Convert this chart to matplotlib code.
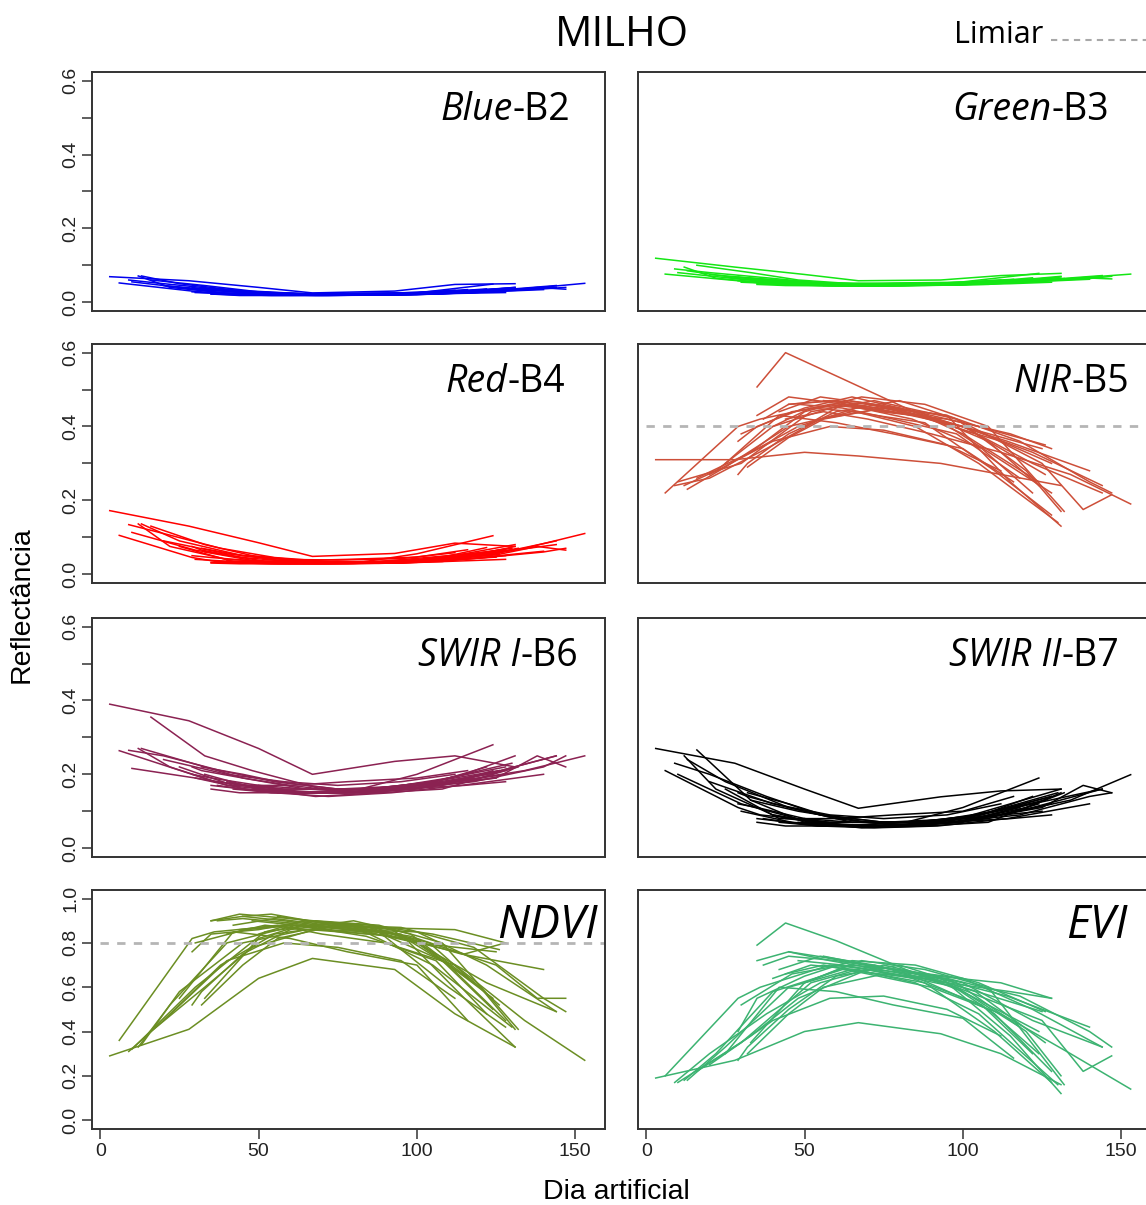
import matplotlib
matplotlib.use("Agg")
import matplotlib.pyplot as plt
from matplotlib.lines import Line2D

# observation days of each field (one line per field in every panel)
days = [
    [3, 28, 50, 67, 93, 112, 131],
    [6, 29, 36, 58, 85, 112, 128],
    [9, 20, 38, 55, 75, 100, 122, 144],
    [10, 30, 52, 72, 98, 125, 138, 147],
    [13, 25, 45, 65, 88, 110, 128],
    [16, 33, 48, 70, 95, 115, 131],
    [29, 35, 50, 65, 85, 105, 126],
    [29, 32, 45, 60, 80, 98, 120, 131],
    [32, 45, 56, 75, 95, 118, 140, 147],
    [35, 45, 54, 70, 92, 110, 128],
    [35, 44, 60, 82, 100, 124],
    [37, 45, 60, 78, 100, 122, 144],
    [40, 52, 66, 85, 105, 130],
    [44, 56, 70, 90, 112, 134, 153],
    [45, 58, 74, 95, 115, 128],
    [48, 62, 78, 98, 118],
    [50, 64, 80, 100, 125],
    [20, 40, 58, 75, 95, 112],
    [25, 42, 60, 78, 100, 116],
    [56, 70, 86, 104, 126],
    [12, 22, 40, 62, 86, 108, 124],
    [33, 50, 68, 88, 108, 132],
    [42, 55, 72, 92, 114, 140],
    [30, 46, 62, 84, 106, 122],
]

blue = [
    [0.069, 0.058, 0.040, 0.025, 0.030, 0.048, 0.050],
    [0.052, 0.030, 0.025, 0.020, 0.020, 0.024, 0.030],
    [0.060, 0.050, 0.035, 0.025, 0.020, 0.022, 0.030, 0.040],
    [0.055, 0.035, 0.022, 0.020, 0.022, 0.030, 0.040, 0.035],
    [0.071, 0.050, 0.030, 0.022, 0.022, 0.028, 0.035],
    [0.060, 0.045, 0.030, 0.020, 0.022, 0.030, 0.040],
    [0.028, 0.025, 0.022, 0.020, 0.020, 0.025, 0.030],
    [0.040, 0.036, 0.028, 0.022, 0.020, 0.022, 0.032, 0.040],
    [0.038, 0.030, 0.024, 0.020, 0.020, 0.026, 0.036, 0.040],
    [0.022, 0.020, 0.018, 0.018, 0.020, 0.028, 0.036],
    [0.022, 0.018, 0.018, 0.020, 0.025, 0.049],
    [0.022, 0.020, 0.019, 0.019, 0.020, 0.030, 0.045],
    [0.024, 0.021, 0.020, 0.020, 0.026, 0.038],
    [0.022, 0.020, 0.020, 0.021, 0.026, 0.036, 0.051],
    [0.019, 0.019, 0.019, 0.020, 0.024, 0.026],
    [0.020, 0.019, 0.019, 0.021, 0.030],
    [0.022, 0.019, 0.019, 0.022, 0.028],
    [0.045, 0.030, 0.024, 0.023, 0.025, 0.032],
    [0.040, 0.022, 0.022, 0.024, 0.026, 0.034],
    [0.019, 0.019, 0.019, 0.022, 0.032],
    [0.071, 0.040, 0.024, 0.019, 0.020, 0.026, 0.034],
    [0.034, 0.022, 0.018, 0.019, 0.022, 0.036],
    [0.021, 0.019, 0.018, 0.020, 0.025, 0.034],
    [0.026, 0.021, 0.019, 0.020, 0.026, 0.036],
]

green = [
    [0.119, 0.095, 0.075, 0.058, 0.060, 0.072, 0.078],
    [0.076, 0.058, 0.052, 0.046, 0.046, 0.052, 0.060],
    [0.090, 0.080, 0.066, 0.052, 0.048, 0.050, 0.058, 0.068],
    [0.080, 0.062, 0.048, 0.045, 0.048, 0.058, 0.066, 0.063],
    [0.085, 0.070, 0.054, 0.047, 0.047, 0.055, 0.062],
    [0.100, 0.080, 0.060, 0.047, 0.047, 0.058, 0.070],
    [0.058, 0.055, 0.050, 0.046, 0.046, 0.052, 0.060],
    [0.068, 0.065, 0.056, 0.048, 0.045, 0.048, 0.060, 0.068],
    [0.066, 0.058, 0.050, 0.046, 0.046, 0.054, 0.064, 0.070],
    [0.050, 0.048, 0.046, 0.045, 0.046, 0.055, 0.064],
    [0.048, 0.045, 0.044, 0.046, 0.055, 0.078],
    [0.050, 0.047, 0.045, 0.045, 0.047, 0.058, 0.072],
    [0.052, 0.048, 0.046, 0.046, 0.054, 0.066],
    [0.049, 0.047, 0.046, 0.047, 0.054, 0.064, 0.076],
    [0.047, 0.045, 0.045, 0.046, 0.050, 0.054],
    [0.047, 0.045, 0.045, 0.047, 0.058],
    [0.050, 0.045, 0.045, 0.048, 0.056],
    [0.075, 0.060, 0.052, 0.050, 0.052, 0.060],
    [0.068, 0.050, 0.050, 0.052, 0.054, 0.062],
    [0.045, 0.045, 0.046, 0.049, 0.062],
    [0.095, 0.065, 0.050, 0.045, 0.046, 0.052, 0.062],
    [0.062, 0.048, 0.044, 0.045, 0.048, 0.064],
    [0.048, 0.045, 0.044, 0.046, 0.052, 0.062],
    [0.054, 0.048, 0.045, 0.046, 0.054, 0.066],
]

red = [
    [0.172, 0.130, 0.085, 0.048, 0.056, 0.084, 0.075],
    [0.105, 0.045, 0.035, 0.030, 0.030, 0.038, 0.050],
    [0.134, 0.110, 0.070, 0.045, 0.032, 0.038, 0.055, 0.080],
    [0.113, 0.065, 0.035, 0.030, 0.035, 0.052, 0.075, 0.065],
    [0.136, 0.090, 0.050, 0.034, 0.034, 0.050, 0.065],
    [0.130, 0.080, 0.050, 0.032, 0.034, 0.055, 0.080],
    [0.050, 0.045, 0.035, 0.030, 0.032, 0.040, 0.055],
    [0.075, 0.065, 0.045, 0.034, 0.030, 0.034, 0.055, 0.075],
    [0.070, 0.050, 0.038, 0.030, 0.030, 0.042, 0.060, 0.070],
    [0.032, 0.030, 0.028, 0.028, 0.030, 0.044, 0.068],
    [0.030, 0.028, 0.028, 0.032, 0.055, 0.104],
    [0.032, 0.030, 0.029, 0.029, 0.032, 0.050, 0.090],
    [0.036, 0.031, 0.030, 0.030, 0.040, 0.070],
    [0.034, 0.031, 0.030, 0.032, 0.042, 0.070, 0.110],
    [0.030, 0.029, 0.029, 0.030, 0.036, 0.040],
    [0.030, 0.029, 0.029, 0.032, 0.050],
    [0.034, 0.029, 0.029, 0.034, 0.046],
    [0.090, 0.055, 0.040, 0.038, 0.042, 0.058],
    [0.075, 0.034, 0.036, 0.040, 0.046, 0.066],
    [0.029, 0.029, 0.030, 0.034, 0.060],
    [0.136, 0.075, 0.040, 0.030, 0.030, 0.040, 0.060],
    [0.060, 0.034, 0.028, 0.029, 0.034, 0.070],
    [0.031, 0.028, 0.028, 0.030, 0.040, 0.062],
    [0.040, 0.032, 0.029, 0.031, 0.042, 0.072],
]

nir = [
    [0.31, 0.31, 0.33, 0.32, 0.30, 0.27, 0.24],
    [0.22, 0.40, 0.42, 0.46, 0.43, 0.36, 0.30],
    [0.24, 0.26, 0.34, 0.42, 0.45, 0.40, 0.30, 0.22],
    [0.25, 0.30, 0.44, 0.47, 0.42, 0.30, 0.175, 0.215],
    [0.23, 0.29, 0.40, 0.44, 0.41, 0.28, 0.16],
    [0.26, 0.33, 0.40, 0.46, 0.43, 0.25, 0.13],
    [0.36, 0.40, 0.45, 0.48, 0.44, 0.40, 0.35],
    [0.27, 0.30, 0.38, 0.44, 0.47, 0.42, 0.28, 0.17],
    [0.29, 0.37, 0.42, 0.45, 0.43, 0.36, 0.25, 0.22],
    [0.43, 0.48, 0.47, 0.45, 0.42, 0.32, 0.22],
    [0.507, 0.60, 0.537, 0.45, 0.38, 0.25],
    [0.42, 0.46, 0.47, 0.44, 0.40, 0.33, 0.24],
    [0.40, 0.45, 0.44, 0.40, 0.30, 0.14],
    [0.42, 0.44, 0.42, 0.38, 0.33, 0.27, 0.19],
    [0.46, 0.47, 0.44, 0.42, 0.38, 0.34],
    [0.46, 0.45, 0.42, 0.38, 0.26],
    [0.40, 0.47, 0.45, 0.40, 0.34],
    [0.27, 0.36, 0.40, 0.39, 0.35, 0.28],
    [0.30, 0.43, 0.41, 0.38, 0.34, 0.25],
    [0.47, 0.46, 0.43, 0.38, 0.27],
    [0.24, 0.28, 0.40, 0.46, 0.44, 0.36, 0.24],
    [0.33, 0.44, 0.48, 0.46, 0.40, 0.17],
    [0.44, 0.48, 0.46, 0.42, 0.36, 0.28],
    [0.38, 0.44, 0.46, 0.42, 0.34, 0.22],
]

swir1 = [
    [0.39, 0.345, 0.27, 0.20, 0.235, 0.25, 0.22],
    [0.264, 0.20, 0.18, 0.16, 0.16, 0.18, 0.20],
    [0.265, 0.25, 0.21, 0.18, 0.16, 0.17, 0.20, 0.25],
    [0.216, 0.19, 0.16, 0.15, 0.16, 0.19, 0.25, 0.22],
    [0.27, 0.24, 0.19, 0.16, 0.16, 0.19, 0.22],
    [0.355, 0.25, 0.21, 0.16, 0.16, 0.20, 0.25],
    [0.20, 0.19, 0.17, 0.16, 0.16, 0.18, 0.21],
    [0.22, 0.21, 0.19, 0.17, 0.15, 0.16, 0.19, 0.22],
    [0.22, 0.20, 0.18, 0.16, 0.16, 0.18, 0.22, 0.25],
    [0.17, 0.16, 0.15, 0.15, 0.16, 0.18, 0.21],
    [0.16, 0.15, 0.15, 0.16, 0.20, 0.28],
    [0.17, 0.16, 0.15, 0.15, 0.16, 0.20, 0.25],
    [0.18, 0.16, 0.15, 0.16, 0.18, 0.23],
    [0.17, 0.16, 0.16, 0.16, 0.18, 0.21, 0.25],
    [0.16, 0.15, 0.15, 0.16, 0.17, 0.18],
    [0.16, 0.15, 0.15, 0.16, 0.19],
    [0.17, 0.15, 0.15, 0.17, 0.19],
    [0.24, 0.20, 0.18, 0.17, 0.18, 0.20],
    [0.22, 0.17, 0.17, 0.18, 0.19, 0.21],
    [0.15, 0.15, 0.15, 0.17, 0.21],
    [0.27, 0.22, 0.17, 0.15, 0.15, 0.17, 0.21],
    [0.20, 0.16, 0.14, 0.15, 0.16, 0.22],
    [0.16, 0.15, 0.14, 0.15, 0.17, 0.20],
    [0.19, 0.16, 0.15, 0.16, 0.18, 0.22],
]

swir2 = [
    [0.27, 0.23, 0.16, 0.108, 0.139, 0.155, 0.16],
    [0.21, 0.11, 0.09, 0.07, 0.07, 0.09, 0.12],
    [0.23, 0.20, 0.14, 0.09, 0.07, 0.08, 0.12, 0.16],
    [0.20, 0.12, 0.07, 0.06, 0.07, 0.11, 0.17, 0.15],
    [0.24, 0.18, 0.11, 0.07, 0.07, 0.10, 0.14],
    [0.266, 0.13, 0.10, 0.07, 0.07, 0.12, 0.16],
    [0.12, 0.11, 0.08, 0.07, 0.07, 0.09, 0.13],
    [0.15, 0.14, 0.11, 0.08, 0.06, 0.07, 0.11, 0.15],
    [0.15, 0.12, 0.09, 0.07, 0.07, 0.09, 0.14, 0.15],
    [0.08, 0.07, 0.06, 0.06, 0.07, 0.10, 0.14],
    [0.07, 0.06, 0.06, 0.07, 0.11, 0.19],
    [0.08, 0.07, 0.06, 0.06, 0.07, 0.11, 0.16],
    [0.09, 0.07, 0.06, 0.06, 0.09, 0.15],
    [0.08, 0.07, 0.07, 0.07, 0.09, 0.13, 0.199],
    [0.07, 0.06, 0.06, 0.07, 0.08, 0.09],
    [0.07, 0.06, 0.06, 0.07, 0.11],
    [0.08, 0.06, 0.06, 0.08, 0.10],
    [0.18, 0.12, 0.09, 0.08, 0.09, 0.12],
    [0.16, 0.08, 0.08, 0.09, 0.10, 0.14],
    [0.06, 0.06, 0.06, 0.08, 0.13],
    [0.25, 0.16, 0.09, 0.06, 0.06, 0.08, 0.12],
    [0.13, 0.07, 0.055, 0.06, 0.07, 0.15],
    [0.07, 0.06, 0.055, 0.06, 0.08, 0.12],
    [0.10, 0.07, 0.06, 0.07, 0.09, 0.14],
]

ndvi = [
    [0.29, 0.41, 0.64, 0.73, 0.68, 0.48, 0.33],
    [0.36, 0.82, 0.85, 0.88, 0.87, 0.86, 0.80],
    [0.31, 0.45, 0.70, 0.84, 0.88, 0.80, 0.62, 0.49],
    [0.32, 0.60, 0.85, 0.89, 0.83, 0.70, 0.55, 0.55],
    [0.34, 0.58, 0.80, 0.86, 0.85, 0.60, 0.42],
    [0.40, 0.60, 0.78, 0.87, 0.84, 0.55, 0.33],
    [0.76, 0.84, 0.86, 0.90, 0.88, 0.84, 0.77],
    [0.52, 0.58, 0.75, 0.86, 0.90, 0.84, 0.60, 0.41],
    [0.52, 0.70, 0.82, 0.88, 0.87, 0.78, 0.55, 0.49],
    [0.90, 0.92, 0.93, 0.89, 0.86, 0.70, 0.45],
    [0.90, 0.93, 0.91, 0.88, 0.81, 0.55],
    [0.90, 0.91, 0.89, 0.86, 0.85, 0.70, 0.49],
    [0.84, 0.88, 0.86, 0.84, 0.70, 0.42],
    [0.86, 0.88, 0.84, 0.80, 0.70, 0.45, 0.27],
    [0.92, 0.90, 0.87, 0.82, 0.75, 0.80],
    [0.90, 0.88, 0.85, 0.82, 0.62],
    [0.84, 0.90, 0.88, 0.80, 0.76],
    [0.45, 0.72, 0.80, 0.78, 0.72, 0.55],
    [0.55, 0.85, 0.82, 0.76, 0.70, 0.45],
    [0.92, 0.89, 0.87, 0.80, 0.52],
    [0.33, 0.52, 0.80, 0.88, 0.86, 0.72, 0.50],
    [0.55, 0.82, 0.90, 0.88, 0.80, 0.41],
    [0.88, 0.91, 0.88, 0.84, 0.75, 0.68],
    [0.80, 0.86, 0.88, 0.83, 0.72, 0.48],
]

evi = [
    [0.19, 0.27, 0.40, 0.44, 0.39, 0.30, 0.16],
    [0.20, 0.55, 0.60, 0.70, 0.66, 0.62, 0.55],
    [0.17, 0.30, 0.48, 0.62, 0.70, 0.62, 0.45, 0.33],
    [0.17, 0.35, 0.62, 0.70, 0.60, 0.45, 0.22, 0.29],
    [0.18, 0.33, 0.60, 0.68, 0.62, 0.40, 0.17],
    [0.22, 0.38, 0.55, 0.68, 0.62, 0.38, 0.12],
    [0.40, 0.55, 0.65, 0.72, 0.70, 0.62, 0.49],
    [0.27, 0.33, 0.50, 0.65, 0.70, 0.62, 0.40, 0.20],
    [0.30, 0.48, 0.60, 0.66, 0.64, 0.56, 0.40, 0.33],
    [0.72, 0.76, 0.74, 0.70, 0.65, 0.48, 0.22],
    [0.79, 0.89, 0.81, 0.68, 0.58, 0.40],
    [0.70, 0.74, 0.72, 0.68, 0.64, 0.50, 0.33],
    [0.64, 0.70, 0.68, 0.62, 0.48, 0.16],
    [0.66, 0.70, 0.66, 0.60, 0.48, 0.30, 0.14],
    [0.76, 0.72, 0.68, 0.62, 0.58, 0.55],
    [0.72, 0.70, 0.66, 0.60, 0.42],
    [0.62, 0.70, 0.68, 0.60, 0.49],
    [0.25, 0.45, 0.55, 0.56, 0.50, 0.38],
    [0.30, 0.60, 0.58, 0.52, 0.46, 0.28],
    [0.74, 0.70, 0.66, 0.58, 0.35],
    [0.18, 0.30, 0.58, 0.68, 0.64, 0.50, 0.30],
    [0.35, 0.62, 0.72, 0.68, 0.60, 0.16],
    [0.68, 0.74, 0.70, 0.64, 0.56, 0.42],
    [0.52, 0.66, 0.70, 0.64, 0.52, 0.30],
]

# panel order: row by row, left then right
panels = [
    ("Blue", "-B2", blue, "#0000EE", None),
    ("Green", "-B3", green, "#14E614", None),
    ("Red", "-B4", red, "#FF0000", None),
    ("NIR", "-B5", nir, "#CD4F39", 0.4),
    ("SWIR I", "-B6", swir1, "#8B2252", None),
    ("SWIR II", "-B7", swir2, "#000000", None),
    ("NDVI", "", ndvi, "#6B8E23", 0.8),
    ("EVI", "", evi, "#3CB371", None),
]
# right edge of each panel name, in axes fraction
name_right = [0.932, 0.918, 0.922, 0.957, 0.947, 0.938, 0.985, 0.955]

label_font = "Open Sans"
axis_font = "Liberation Sans"

fig = plt.figure(figsize=(11.46, 12.05), dpi=100)

col_x = [0.0803, 0.5567]
row_y = [0.7419, 0.5162, 0.2888, 0.0631]
w, h = 0.4476, 0.1985

for k, (name, suffix, values, color, limiar) in enumerate(panels):
    row, col = divmod(k, 2)
    ax = fig.add_axes([col_x[col], row_y[row], w, h])

    for d, v in zip(days, values):
        ax.plot(d, v, color=color, lw=1.1)

    if limiar is not None:
        ax.hlines(limiar, 0, 160, colors="#B5B5B5", linestyles=(0, (3, 3)), lw=2)

    ax.set_xlim(-2.6, 159.4)
    if row < 3:
        ax.set_ylim(-0.024, 0.624)
    else:
        ax.set_ylim(-0.04, 1.04)

    for s in ax.spines.values():
        s.set_color("#333333")
        s.set_linewidth(1.4)

    if col == 0:
        if row < 3:
            ax.set_yticks([0, 0.1, 0.2, 0.3, 0.4, 0.5, 0.6])
            ax.set_yticklabels(["0.0", "", "0.2", "", "0.4", "", "0.6"])
        else:
            ax.set_yticks([0, 0.2, 0.4, 0.6, 0.8, 1.0])
            ax.set_yticklabels(["0.0", "0.2", "0.4", "0.6", "0.8", "1.0"])
        ax.tick_params(axis="y", length=7, width=1.1, color="#333333", pad=2,
                       labelsize=14, labelrotation=90, labelcolor="#222222",
                       labelfontfamily=axis_font)
        for t in ax.get_yticklabels():
            t.set_va("center")
    else:
        ax.set_yticks([])

    if row == 3:
        ax.set_xticks([0, 50, 100, 150])
        ax.tick_params(axis="x", length=7, width=1.1, color="#333333", pad=3,
                       labelsize=14, labelcolor="#222222", labelfontfamily=axis_font)
    else:
        ax.set_xticks([])

    # panel name: italic band name plus upright band number
    rx = name_right[k]
    if suffix:
        t2 = ax.text(rx, 0.84, suffix, transform=ax.transAxes, ha="right", va="center",
                     fontsize=27, family=label_font)
        fig.canvas.draw()
        bb = t2.get_window_extent().transformed(ax.transAxes.inverted())
        ax.text(bb.x0, 0.84, name, transform=ax.transAxes, ha="right", va="center",
                fontsize=27, family=label_font, style="italic")
    else:
        ax.text(rx, 0.85, name, transform=ax.transAxes, ha="right", va="center",
                fontsize=33, family=label_font, style="italic")

fig.text(0.5428, 0.971, "MILHO", ha="center", va="center", fontsize=30, family=label_font)
fig.text(0.871, 0.971, "Limiar", ha="center", va="center", fontsize=22, family=label_font)
fig.add_artist(Line2D([0.917, 1.0], [0.967, 0.967], color="#A8A8A8", lw=1.5,
                      linestyle=(0, (3, 2.5))))

fig.text(0.0192, 0.498, "Reflectância", rotation=90, ha="center", va="center",
         fontsize=20.5, family=axis_font)
fig.text(0.538, 0.011, "Dia artificial", ha="center", va="center",
         fontsize=20.5, family=axis_font)

fig.savefig("out.png", dpi=100)
